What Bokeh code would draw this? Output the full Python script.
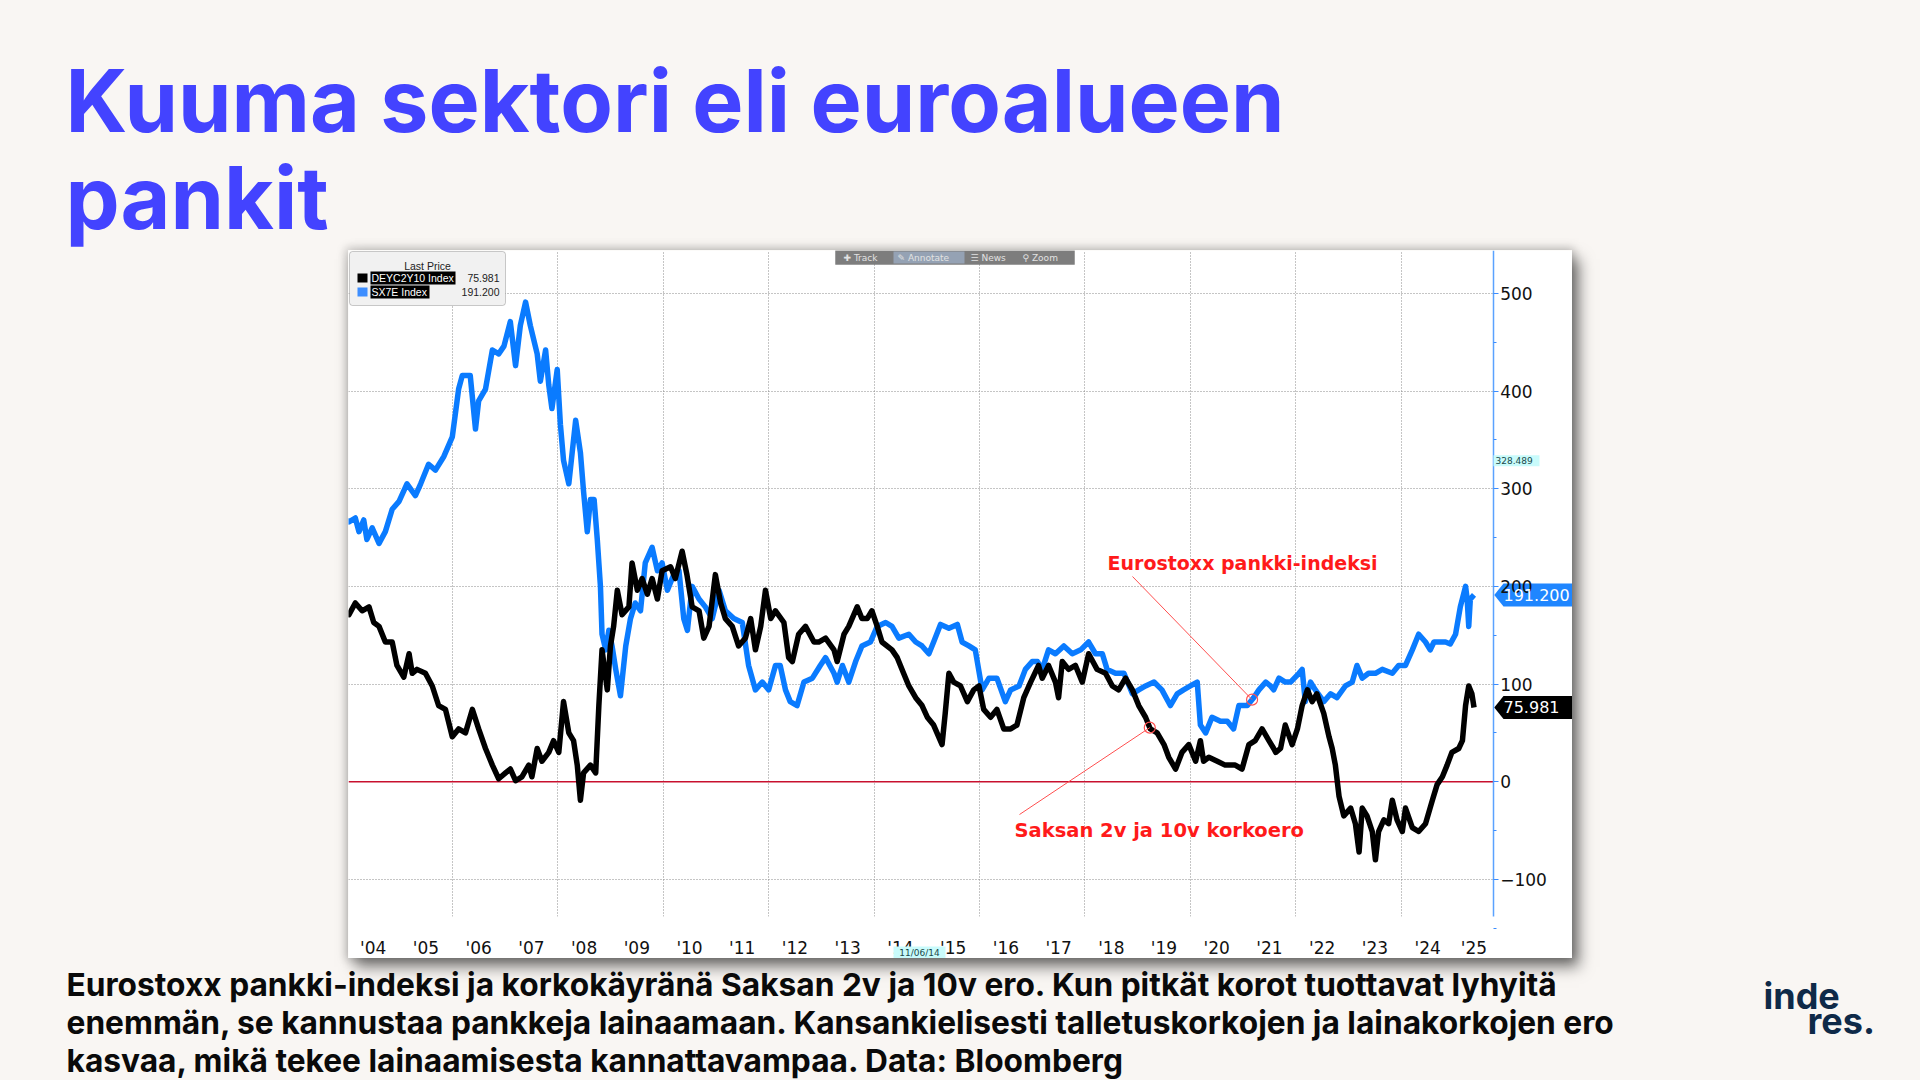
import numpy as np
from bokeh.plotting import figure
from bokeh.models import Range1d, FixedTicker, Span, Label, BoxAnnotation, Spacer
from bokeh.layouts import column, row
from bokeh.embed import file_html
from bokeh.resources import INLINE

# ---------------- data ----------------
sx7e_year = [2004.00, 2004.04, 2004.16, 2004.23, 2004.32, 2004.38, 2004.48, 2004.61, 2004.73, 2004.86,
             2004.99, 2005.14, 2005.30, 2005.40, 2005.55, 2005.68, 2005.84, 2006.00, 2006.12, 2006.19,
             2006.34, 2006.44, 2006.50, 2006.63, 2006.76, 2006.88, 2006.98, 2007.10, 2007.20, 2007.29,
             2007.39, 2007.48, 2007.61, 2007.67, 2007.77, 2007.83, 2007.89, 2007.99, 2008.05, 2008.11,
             2008.21, 2008.34, 2008.43, 2008.49, 2008.56, 2008.62, 2008.69, 2008.75, 2008.81, 2008.84,
             2008.91, 2008.97, 2009.03, 2009.10, 2009.19, 2009.29, 2009.38, 2009.47, 2009.57, 2009.66,
             2009.79, 2009.89, 2009.98, 2010.08, 2010.20, 2010.30, 2010.39, 2010.46, 2010.55, 2010.68,
             2010.80, 2010.93, 2011.06, 2011.18, 2011.34, 2011.50, 2011.62, 2011.75, 2011.88, 2012.00,
             2012.13, 2012.22, 2012.32, 2012.41, 2012.54, 2012.67, 2012.83, 2012.98, 2013.08, 2013.24,
             2013.30, 2013.40, 2013.52, 2013.65, 2013.77, 2013.93, 2014.06, 2014.22, 2014.34, 2014.47,
             2014.66, 2014.79, 2014.91, 2015.04, 2015.13, 2015.26, 2015.42, 2015.58, 2015.67, 2015.80,
             2015.92, 2016.05, 2016.18, 2016.33, 2016.49, 2016.59, 2016.75, 2016.87, 2017.00, 2017.10,
             2017.19, 2017.31, 2017.44, 2017.60, 2017.76, 2017.92, 2018.07, 2018.20, 2018.33, 2018.42,
             2018.58, 2018.74, 2018.90, 2019.02, 2019.15, 2019.31, 2019.46, 2019.62, 2019.75, 2019.87,
             2020.00, 2020.13, 2020.19, 2020.29, 2020.41, 2020.57, 2020.70, 2020.82, 2020.92, 2021.08,
             2021.20, 2021.30, 2021.43, 2021.52, 2021.58, 2021.68, 2021.80, 2021.90, 2022.06, 2022.12,
             2022.18, 2022.28, 2022.37, 2022.53, 2022.66, 2022.78, 2022.94, 2023.07, 2023.16, 2023.26,
             2023.38, 2023.51, 2023.64, 2023.83, 2023.95, 2024.08, 2024.21, 2024.33, 2024.46, 2024.55,
             2024.62, 2024.71, 2024.84, 2024.93, 2025.03, 2025.12, 2025.22, 2025.25, 2025.28, 2025.31,
             2025.38]
sx7e_value = [268, 266, 270, 256, 268, 248, 260, 244, 256, 279,
              287, 305, 293, 305, 325, 319, 333, 353, 402, 416,
              416, 361, 390, 402, 442, 438, 446, 471, 426, 467,
              491, 467, 438, 410, 442, 406, 382, 422, 366, 329,
              305, 370, 337, 297, 256, 289, 289, 248, 200, 151,
              135, 155, 139, 115, 88, 139, 167, 183, 175, 224,
              240, 216, 224, 196, 212, 216, 167, 155, 200, 187,
              179, 167, 196, 175, 167, 163, 119, 94, 102, 94,
              119, 119, 94, 82, 78, 102, 106, 119, 127, 111,
              102, 119, 102, 123, 139, 143, 159, 163, 159, 147,
              151, 143, 139, 131, 143, 161, 157, 161, 143, 139,
              135, 94, 106, 106, 82, 94, 98, 115, 123, 123,
              115, 135, 131, 139, 131, 135, 143, 131, 131, 115,
              111, 111, 90, 94, 98, 102, 94, 78, 90, 94,
              98, 102, 58, 50, 66, 62, 62, 54, 78, 78,
              86, 94, 102, 98, 94, 106, 102, 102, 111, 115,
              82, 102, 94, 82, 90, 86, 98, 102, 119, 106,
              111, 111, 115, 111, 119, 119, 135, 151, 143, 135,
              143, 143, 143, 141, 151, 179, 200, 187, 159, 187,
              191.2]

deyc_year = [2004.00, 2004.04, 2004.16, 2004.29, 2004.42, 2004.51, 2004.61, 2004.73, 2004.86, 2004.95,
             2005.08, 2005.18, 2005.24, 2005.33, 2005.49, 2005.62, 2005.74, 2005.87, 2006.00, 2006.12,
             2006.25, 2006.38, 2006.50, 2006.63, 2006.76, 2006.88, 2007.01, 2007.10, 2007.20, 2007.32,
             2007.45, 2007.51, 2007.61, 2007.70, 2007.83, 2007.92, 2008.02, 2008.11, 2008.21, 2008.30,
             2008.37, 2008.43, 2008.49, 2008.62, 2008.72, 2008.78, 2008.84, 2008.94, 2009.00, 2009.06,
             2009.13, 2009.22, 2009.35, 2009.41, 2009.51, 2009.60, 2009.70, 2009.79, 2009.89, 2009.98,
             2010.14, 2010.23, 2010.36, 2010.45, 2010.55, 2010.68, 2010.77, 2010.87, 2010.99, 2011.09,
             2011.18, 2011.31, 2011.43, 2011.56, 2011.66, 2011.75, 2011.85, 2011.94, 2012.04, 2012.13,
             2012.29, 2012.38, 2012.45, 2012.57, 2012.70, 2012.86, 2012.95, 2013.08, 2013.24, 2013.30,
             2013.43, 2013.52, 2013.68, 2013.77, 2013.87, 2013.96, 2014.06, 2014.15, 2014.34, 2014.44,
             2014.56, 2014.66, 2014.79, 2014.91, 2015.01, 2015.13, 2015.29, 2015.35, 2015.42, 2015.51,
             2015.64, 2015.77, 2015.89, 2015.99, 2016.08, 2016.21, 2016.33, 2016.46, 2016.59, 2016.71,
             2016.84, 2016.97, 2017.12, 2017.19, 2017.31, 2017.44, 2017.50, 2017.57, 2017.69, 2017.82,
             2017.95, 2018.07, 2018.23, 2018.39, 2018.52, 2018.64, 2018.77, 2018.90, 2019.02, 2019.15,
             2019.24, 2019.37, 2019.50, 2019.59, 2019.72, 2019.84, 2019.97, 2020.10, 2020.19, 2020.25,
             2020.35, 2020.51, 2020.66, 2020.85, 2020.98, 2021.11, 2021.23, 2021.36, 2021.49, 2021.58,
             2021.62, 2021.71, 2021.80, 2021.93, 2022.03, 2022.12, 2022.22, 2022.31, 2022.40, 2022.53,
             2022.63, 2022.69, 2022.75, 2022.82, 2022.91, 2023.04, 2023.13, 2023.20, 2023.26, 2023.35,
             2023.45, 2023.51, 2023.57, 2023.67, 2023.76, 2023.83, 2023.92, 2024.02, 2024.08, 2024.21,
             2024.33, 2024.46, 2024.59, 2024.68, 2024.78, 2024.87, 2024.96, 2025.09, 2025.16, 2025.22,
             2025.28, 2025.34, 2025.38]
deyc_value = [172, 171, 183, 175, 179, 163, 159, 143, 143, 119,
              107, 131, 111, 115, 111, 98, 78, 74, 46, 54,
              50, 74, 54, 34, 17, 3, 9, 13, 1, 5,
              17, 5, 34, 21, 30, 42, 30, 82, 50, 42,
              17, -19, 9, 17, 9, 78, 135, 94, 139, 159,
              196, 171, 179, 224, 196, 208, 192, 208, 187, 216,
              220, 208, 236, 212, 179, 175, 147, 159, 212, 183,
              167, 159, 139, 147, 167, 135, 159, 196, 167, 175,
              163, 127, 123, 151, 159, 143, 143, 147, 135, 123,
              151, 159, 179, 167, 167, 175, 159, 143, 135, 127,
              111, 98, 86, 78, 66, 58, 38, 70, 111, 102,
              98, 82, 94, 98, 74, 66, 74, 54, 54, 58,
              86, 102, 119, 106, 119, 102, 86, 123, 115, 119,
              102, 131, 115, 111, 98, 94, 106, 94, 78, 66,
              54, 50, 38, 25, 13, 30, 38, 21, 42, 21,
              25, 21, 17, 17, 13, 38, 42, 54, 42, 34,
              30, 34, 58, 38, 54, 78, 94, 82, 90, 70,
              46, 34, 17, -15, -35, -27, -43, -72, -27, -35,
              -51, -80, -51, -39, -43, -19, -39, -51, -27, -47,
              -51, -43, -19, -3, 5, 17, 30, 34, 42, 78,
              98, 90, 75.981]

year_label_pos = [2004.5, 2005.5, 2006.5, 2007.5, 2008.5, 2009.5, 2010.5, 2011.5, 2012.5, 2013.5,
                  2014.5, 2015.5, 2016.5, 2017.5, 2018.5, 2019.5, 2020.5, 2021.5, 2022.5, 2023.5,
                  2024.5, 2025.38]
year_labels = ["'04", "'05", "'06", "'07", "'08", "'09", "'10", "'11", "'12", "'13",
               "'14", "'15", "'16", "'17", "'18", "'19", "'20", "'21", "'22", "'23",
               "'24", "'25"]
grid_years = [2006, 2008, 2010, 2012, 2014, 2016, 2018, 2020, 2022, 2024]
y_ticks = [-100, 0, 100, 200, 300, 400, 500]
y_minor = [-150, -50, 50, 150, 250, 350, 450, 550]
y_grid = [-100, 100, 200, 300, 400, 500]
last_deyc = 75.981
last_sx7e = 191.200
high_mark = 328.489
cursor_date = "11/06/14"

title_lines = ["Kuuma sektori eli euroalueen", "pankit"]
caption_lines = [
    "Eurostoxx pankki-indeksi ja korkokäyränä Saksan 2v ja 10v ero. Kun pitkät korot tuottavat lyhyitä",
    "enemmän, se kannustaa pankkeja lainaamaan. Kansankielisesti talletuskorkojen ja lainakorkojen ero",
    "kasvaa, mikä tekee lainaamisesta kannattavampaa. Data: Bloomberg",
]

# ---------------- geometry helpers (page pixels -> chart data) ----------------
BEIGE = "#f9f6f3"
BLUE = "#0a7bff"
TITLE_BLUE = "#4343ff"
RED = "#ff1a1a"
W, H = 1920, 1080
TITLE_H, CHART_H = 250, 708
CAP_H = H - TITLE_H - CHART_H
CHART_W = 1224
LEFT_GAP = 348
PX_PER_YEAR = 52.72
PX_PER_UNIT = 0.9767
ZERO_PAGE_Y = 781.2
GRID2006_PAGE_X = 451.8
BASE_SHIFT = 0.357   # alphabetic baseline correction (fraction of font size)


def dx(page_x):
    return 2006 + (page_x - GRID2006_PAGE_X) / PX_PER_YEAR


def vy(page_y):
    return (ZERO_PAGE_Y - page_y) / PX_PER_UNIT


AXIS_X = dx(1492.7)
AXIS_BOTTOM = vy(916)


def blank(h):
    f = figure(width=W, height=h, x_range=Range1d(0, W), y_range=Range1d(h, 0),
               toolbar_location=None, output_backend="svg", min_border=0,
               x_axis_location=None, y_axis_location=None, outline_line_color=None,
               border_fill_color=None, background_fill_color=None)
    f.grid.visible = False
    return f


# ---------------- title ----------------
pt = blank(TITLE_H)
for i, line in enumerate(title_lines):
    fs = 86
    pt.add_layout(Label(x=65, y=131 + 97 * i - BASE_SHIFT * fs, text=line, text_font="Inter",
                        text_font_style="bold", text_font_size=f"{fs}px",
                        text_color=TITLE_BLUE, text_baseline="alphabetic"))

# ---------------- chart ----------------
p = figure(width=CHART_W, height=CHART_H,
           x_range=Range1d(dx(LEFT_GAP), dx(LEFT_GAP + CHART_W)),
           y_range=Range1d(vy(TITLE_H + CHART_H), vy(TITLE_H)),
           y_axis_location="right", toolbar_location=None, output_backend="svg",
           min_border=0, outline_line_color=None,
           background_fill_color="white", border_fill_color="white")
p.styles = {"box-shadow": "0px 0px 9px 2px rgba(0,0,0,0.22), 7px 9px 14px rgba(0,0,0,0.5)"}

# right value axis, drawn at a fixed place inside the white panel
p.yaxis.fixed_location = AXIS_X
p.yaxis.bounds = (AXIS_BOTTOM, vy(TITLE_H))
p.yaxis.ticker = FixedTicker(ticks=y_ticks, minor_ticks=y_minor)
p.yaxis.axis_line_color = "#5aa2ff"
p.yaxis.axis_line_width = 1.5
p.yaxis.major_tick_in = 0
p.yaxis.major_tick_out = 5
p.yaxis.minor_tick_in = 0
p.yaxis.minor_tick_out = 3
p.yaxis.major_tick_line_color = "#3a8cff"
p.yaxis.minor_tick_line_color = "#3a8cff"
p.yaxis.major_label_standoff = 2
p.yaxis.major_label_text_font = "DejaVu Sans"
p.yaxis.major_label_text_font_size = "17px"
p.yaxis.major_label_text_color = "#111111"

# year axis
p.xaxis.fixed_location = AXIS_BOTTOM
p.xaxis.ticker = FixedTicker(ticks=year_label_pos)
p.xaxis.major_label_overrides = {pos: lab for pos, lab in zip(year_label_pos, year_labels)}
p.xaxis.axis_line_color = None
p.xaxis.major_tick_line_color = None
p.xaxis.minor_tick_line_color = None
p.xaxis.major_label_standoff = 15
p.xaxis.major_label_text_font = "DejaVu Sans"
p.xaxis.major_label_text_font_size = "17px"
p.xaxis.major_label_text_color = "#111111"

# grids
p.xgrid.ticker = FixedTicker(ticks=grid_years)
p.ygrid.ticker = FixedTicker(ticks=y_grid)
for g in (p.xgrid, p.ygrid):
    g.grid_line_color = "#8a8a8a"
    g.grid_line_dash = "1 2"
    g.grid_line_width = 1
p.add_layout(Span(location=0, dimension="width", line_color="#c8102e", line_width=1.5,
                  level="underlay"))
# keep grid lines inside the plotting area (left of the axis, above the year labels)
p.add_layout(BoxAnnotation(left=AXIS_X, fill_color="white", fill_alpha=1, line_color=None,
                           level="underlay"))
p.add_layout(BoxAnnotation(top=AXIS_BOTTOM, right=AXIS_X, fill_color="white", fill_alpha=1,
                           line_color=None, level="underlay"))

# series
p.line(sx7e_year, sx7e_value, line_color=BLUE, line_width=5.5, line_join="round")
p.line(deyc_year, deyc_value, line_color="black", line_width=5.5, line_join="round")

# legend box (Bloomberg style)
p.add_layout(BoxAnnotation(left=dx(349), right=dx(505), top=vy(251), bottom=vy(305),
                           fill_color="#f1f1f1", fill_alpha=1, line_color="#555555",
                           line_width=1, border_radius=3))
p.add_layout(Label(x=dx(427), y=vy(265), text="Last Price", text_font="Liberation Sans",
                   text_font_size="10.5px", text_color="#222222", text_align="center",
                   text_baseline="middle"))
p.add_layout(BoxAnnotation(left=dx(357), right=dx(367), top=vy(273), bottom=vy(282),
                           fill_color="black", fill_alpha=1, line_color=None))
p.add_layout(BoxAnnotation(left=dx(357), right=dx(367), top=vy(287), bottom=vy(296),
                           fill_color="#3d8eff", fill_alpha=1, line_color=None))
for name, val, yy, wdt in (("DEYC2Y10 Index", f"{last_deyc:.3f}", 277.5, 455),
                           ("SX7E Index", f"{last_sx7e:.3f}", 291.5, 429)):
    p.add_layout(BoxAnnotation(left=dx(370), right=dx(wdt), top=vy(yy - 6.5), bottom=vy(yy + 6.5),
                               fill_color="black", fill_alpha=1, line_color=None))
    p.add_layout(Label(x=dx(371), y=vy(yy), text=name, text_font="Liberation Sans",
                       text_font_size="10.5px", text_color="white", text_baseline="middle"))
    p.add_layout(Label(x=dx(499), y=vy(yy), text=val, text_font="Liberation Sans",
                       text_font_size="10.5px", text_color="#222222", text_align="right",
                       text_baseline="middle"))

# toolbar strip at the top
p.add_layout(BoxAnnotation(left=dx(835), right=dx(1074), top=vy(250), bottom=vy(264),
                           fill_color="#7d7d7d", fill_alpha=1, line_color="#555555"))
p.add_layout(BoxAnnotation(left=dx(893), right=dx(964), top=vy(251), bottom=vy(263),
                           fill_color="#95a2b4", fill_alpha=1, line_color=None))
for txt, xx in (("✚ Track", 843), ("✎ Annotate", 897), ("☰ News", 970), ("⚲ Zoom", 1022)):
    p.add_layout(Label(x=dx(xx), y=vy(257), text=txt, text_font="DejaVu Sans",
                       text_font_size="9px", text_color="#e2e2e2", text_baseline="middle"))

# annotations
blue_pt_x = 2021.17
blue_pt_y = float(np.interp(blue_pt_x, sx7e_year, sx7e_value))
black_pt_x = 2019.23
black_pt_y = float(np.interp(black_pt_x, deyc_year, deyc_value))
p.segment(x0=[dx(1132), dx(1019)], y0=[vy(576), vy(814)],
          x1=[blue_pt_x, black_pt_x], y1=[blue_pt_y, black_pt_y],
          line_color="#ff5050", line_width=1)
p.scatter([blue_pt_x, black_pt_x], [blue_pt_y, black_pt_y], marker="circle", size=11,
          fill_color=None, line_color="#ff5050", line_width=1.2)
p.add_layout(Label(x=dx(1107), y=vy(562), text="Eurostoxx pankki-indeksi",
                   text_font="DejaVu Sans", text_font_style="bold", text_font_size="19px",
                   text_color=RED, text_baseline="middle"))
p.add_layout(Label(x=dx(1014), y=vy(830), text="Saksan 2v ja 10v korkoero",
                   text_font="DejaVu Sans", text_font_style="bold", text_font_size="19.5px",
                   text_color=RED, text_baseline="middle"))

# last price tags on the axis (arrow-shaped)
tag_half = 11.5 / PX_PER_UNIT
tag_xs, tag_ys = [], []
for v in (last_sx7e, last_deyc):
    tag_xs.append([AXIS_X + 0.02, dx(1503), dx(1572), dx(1572), dx(1503)])
    tag_ys.append([v, v + tag_half, v + tag_half, v - tag_half, v - tag_half])
p.patches(tag_xs, tag_ys, fill_color=["#1f86ff", "black"], line_color=None)
for v in (last_sx7e, last_deyc):
    p.add_layout(Label(x=dx(1503), y=v, text=f"{v:.3f}", text_font="DejaVu Sans",
                       text_font_size="16px", text_color="white", text_baseline="middle"))

# small cyan markers
p.add_layout(BoxAnnotation(left=dx(1493), right=dx(1539), top=high_mark + 5.5 / PX_PER_UNIT,
                           bottom=high_mark - 5.5 / PX_PER_UNIT, fill_color="#c9fbfb",
                           fill_alpha=1, line_color=None))
p.add_layout(Label(x=dx(1495), y=high_mark, text=f"{high_mark:.3f}", text_font="DejaVu Sans",
                   text_font_size="9px", text_color="#1a4a4a", text_baseline="middle"))
p.add_layout(BoxAnnotation(left=dx(893), right=dx(945), top=vy(946), bottom=vy(958),
                           fill_color="#c9fbfb", fill_alpha=1, line_color=None))
p.add_layout(Label(x=dx(919), y=vy(952), text=cursor_date, text_font="DejaVu Sans",
                   text_font_size="9px", text_color="#1a4a4a", text_baseline="middle",
                   text_align="center"))

# ---------------- caption + logo ----------------
pc = blank(CAP_H)
for i, line in enumerate(caption_lines):
    fs = 31.7
    pc.add_layout(Label(x=66, y=37 + 38 * i - BASE_SHIFT * fs, text=line, text_font="Inter",
                        text_font_style="bold", text_font_size=f"{fs}px",
                        text_color="#0a0a0a", text_baseline="alphabetic"))
for txt, xx, yy in (("inde", 1763, 50), ("res.", 1807, 75)):
    fs = 36
    pc.add_layout(Label(x=xx, y=yy - BASE_SHIFT * fs, text=txt, text_font="Inter",
                        text_font_style="bold", text_font_size=f"{fs}px",
                        text_color="#0f2a48", text_baseline="alphabetic"))

layout = column(pt, row(Spacer(width=LEFT_GAP, height=CHART_H), p,
                        Spacer(width=W - LEFT_GAP - CHART_W, height=CHART_H)), pc,
                styles={"background-color": BEIGE})

open("out.html", "w").write(file_html(layout, INLINE))
